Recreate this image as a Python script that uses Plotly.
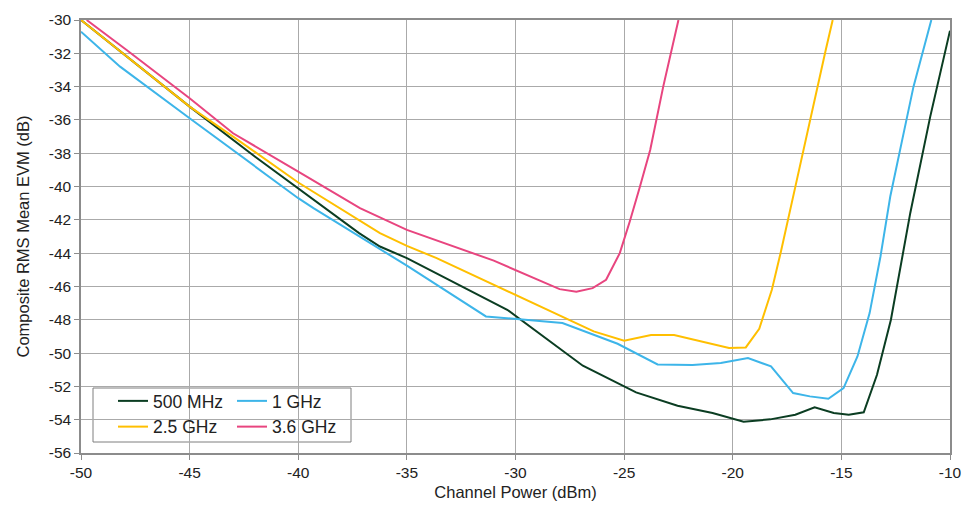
import plotly.graph_objects as go

# ---- data ----
x_500 = [-50, -45, -42, -40, -37.2, -36.24, -35, -30.38, -26.9, -24.45, -22.54, -20.93, -19.5,
         -18.27, -17.12, -16.23, -15.35, -14.66, -13.97, -13.36, -12.72, -11.83, -10.91, -10]
y_500 = [-30, -35.2, -38.2, -40.1, -42.8, -43.6, -44.3, -47.4, -50.76, -52.36, -53.16, -53.6, -54.12,
         -53.98, -53.7, -53.26, -53.6, -53.7, -53.56, -51.3, -48.0, -41.6, -35.8, -30.64]

x_1g = [-50, -48.2, -45, -40, -39.3, -35.6, -35, -31.36, -27.84, -25.3, -23.46, -21.85, -20.55,
        -19.3, -18.24, -17.22, -16.45, -15.6, -14.9, -14.26, -13.7, -13.2, -12.75, -12.2, -11.68, -10.86]
y_1g = [-30.7, -32.8, -35.9, -40.7, -41.3, -44.3, -44.75, -47.8, -48.2, -49.44, -50.68, -50.72, -50.6,
        -50.3, -50.8, -52.4, -52.6, -52.74, -52.1, -50.2, -47.6, -44.2, -40.6, -37.2, -34.0, -30.0]

x_25g = [-50, -45, -43, -40, -36.24, -35, -33.63, -30, -26.4, -25, -23.76, -22.7, -20.17,
         -19.4, -18.78, -18.2, -17.8, -17.1, -16.43, -15.72, -15.4]
y_25g = [-30, -35.2, -37.0, -39.76, -42.8, -43.56, -44.3, -46.5, -48.7, -49.26, -48.92, -48.92, -49.7,
         -49.66, -48.54, -46.2, -44.0, -39.9, -35.9, -31.8, -30.0]

x_36g = [-49.74, -47.9, -45, -43, -40, -37.16, -35, -31.0, -27.97, -27.2, -26.45, -25.83, -25.2,
         -24.74, -24.27, -23.8, -23.2, -22.86, -22.5]
y_36g = [-30, -31.8, -34.7, -36.8, -39.1, -41.3, -42.6, -44.45, -46.16, -46.32, -46.1, -45.6, -44.0,
         -42.1, -40.0, -37.8, -34.0, -32.0, -30.0]

x_ticks = [-50, -45, -40, -35, -30, -25, -20, -15, -10]
y_ticks = [-30, -32, -34, -36, -38, -40, -42, -44, -46, -48, -50, -52, -54, -56]

FONT = "Liberation Sans, Arial, sans-serif"
TXT = "#222222"

fig = go.Figure()
fig.add_trace(go.Scatter(x=x_500, y=y_500, mode="lines", name="500 MHz",
                         line=dict(color="#0b3d22", width=2), legend="legend"))
fig.add_trace(go.Scatter(x=x_25g, y=y_25g, mode="lines", name="2.5 GHz",
                         line=dict(color="#ffbf00", width=2), legend="legend"))
fig.add_trace(go.Scatter(x=x_1g, y=y_1g, mode="lines", name="1 GHz",
                         line=dict(color="#3db5e9", width=2), legend="legend2"))
fig.add_trace(go.Scatter(x=x_36g, y=y_36g, mode="lines", name="3.6 GHz",
                         line=dict(color="#e8457f", width=2), legend="legend2"))

axis_common = dict(showline=True, linecolor="#8c8c8c", linewidth=1.5, mirror=True,
                   showgrid=True, gridcolor="#aaaaaa", gridwidth=1,
                   ticks="outside", ticklen=5, tickcolor="#8c8c8c", automargin=False,
                   tickfont=dict(family=FONT, size=15.5, color=TXT), zeroline=False)

W, H = 962, 508
L, R, T, B = 81, 12, 20, 55
PW, PH = W - L - R, H - T - B


def px_x(px):
    return (px - L) / PW


def px_y(py):
    return (H - B - py) / PH


leg_common = dict(xanchor="left", yanchor="top", orientation="v",
                  bgcolor="rgba(0,0,0,0)", borderwidth=0, itemwidth=30,
                  font=dict(family=FONT, size=17.5, color=TXT), tracegroupgap=0)

fig.update_layout(
    width=W, height=H,
    margin=dict(l=L, r=R, t=T, b=B, autoexpand=False),
    paper_bgcolor="white", plot_bgcolor="white",
    font=dict(family=FONT, size=15, color=TXT),
    xaxis=dict(range=[-50, -10], tickvals=x_ticks, ticktext=[str(v) for v in x_ticks],
               title=dict(text="Channel Power (dBm)", font=dict(family=FONT, size=16.5, color=TXT), standoff=6),
               **axis_common),
    yaxis=dict(range=[-56, -30], tickvals=y_ticks, ticktext=[str(v) for v in y_ticks],
               title=dict(text="Composite RMS Mean EVM (dB)", font=dict(family=FONT, size=16.5, color=TXT), standoff=15),
               **axis_common),
    legend=dict(x=px_x(113), y=px_y(383), **leg_common),
    legend2=dict(x=px_x(232), y=px_y(383), **leg_common),
    showlegend=True,
    shapes=[dict(type="rect", xref="paper", yref="paper",
                 x0=px_x(93), x1=px_x(351), y0=px_y(442), y1=px_y(388),
                 line=dict(color="#7f7f7f", width=1), fillcolor="white", layer="below")],
)

fig.write_html("out.html", config={"displayModeBar": False},
               post_script="document.body.style.margin='0px';document.body.style.overflow='hidden';")
